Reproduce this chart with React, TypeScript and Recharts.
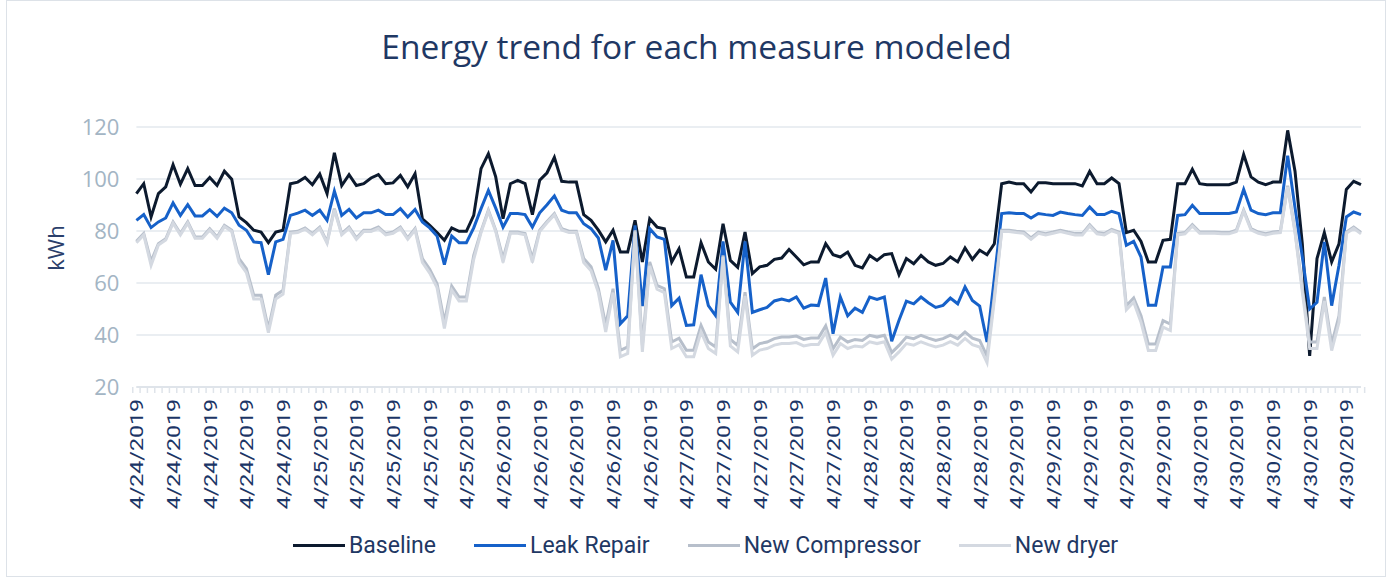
import React from "react";
import { LineChart, Line, XAxis, YAxis, CartesianGrid } from "recharts";

const NAVY = "#1f3864";

// hourly readings, 4/24 00:00 → 4/30 23:00
const days = ["4/24/2019", "4/25/2019", "4/26/2019", "4/27/2019", "4/28/2019", "4/29/2019", "4/30/2019"];
const categories = days.flatMap((d) => Array.from({ length: 24 }, () => d));

const baseline = [
  94.4, 98.2, 85.4, 94.4, 97, 105.5, 98, 104, 97.5, 97.5, 100.6, 97.5, 103, 99.9, 85.4, 83.2, 80.3, 79.6, 75.5, 79.6, 80.3, 98.2, 98.8, 100.6,
  97.8, 101.9, 94.4, 110.1, 97.5, 101.7, 97.5, 98.2, 100.4, 101.7, 98.2, 98.5, 101.4, 97, 102, 84.7, 82.2, 79.4, 76.4, 81.2, 79.9, 79.9, 86, 104,
  109.7, 100.8, 84.7, 98.2, 99.5, 98.2, 86.3, 99.5, 102.4, 108.3, 99.1, 98.8, 98.8, 86.3, 84.1, 80.3, 75.8, 80.3, 71.9, 71.9, 84.1, 68.1, 84.7, 81.5,
  80.9, 68.1, 73.2, 62.3, 62.3, 75.5, 68.1, 65.3, 82.8, 68.7, 66, 79.6, 63.6, 66.2, 66.8, 69.1, 69.6, 72.9, 70, 67, 68.1, 68.1, 75.1, 70.9,
  70, 71.9, 66.8, 65.8, 70.6, 68.7, 70.9, 71.3, 63.2, 69.4, 67.4, 70.6, 68.1, 66.8, 67.5, 70, 68.1, 73.5, 69.1, 72.6, 70.9, 75.1, 98.2, 98.8,
  98.2, 98.2, 95, 98.6, 98.6, 98.2, 98.2, 98.2, 98.2, 97.3, 102.9, 98.2, 98.2, 100.4, 98.2, 79.4, 80.3, 76, 68.1, 68.1, 76.4, 76.8, 98.2, 98.2,
  103.7, 98.2, 97.8, 97.8, 97.8, 97.8, 98.8, 109.4, 100.8, 98.8, 97.8, 98.8, 98.8, 118.7, 103, 75, 32, 69.4, 79.4, 68.1, 75.1, 96, 99.1, 97.8,
];

const leakRepair = [
  84.1, 86.3, 81.3, 83.5, 85, 90.8, 86, 90.1, 85.8, 85.8, 88.2, 85.6, 88.8, 87, 82.2, 80.3, 75.8, 75.5, 63.2, 75.8, 76.8, 86, 86.9, 88,
  86, 88, 84.1, 95.3, 86, 88.3, 85, 87, 87, 88, 86.3, 86.3, 88.6, 85.4, 88.3, 83.5, 81.2, 78.1, 67.1, 78.1, 75.5, 75.5, 81.2, 88.6,
  95.6, 88.8, 81.5, 86.7, 86.7, 86.3, 81.5, 87, 90.1, 93.5, 88, 87, 87, 82.8, 80.9, 77.3, 64.9, 76.4, 44.3, 47.4, 82.2, 51.1, 80.9, 77.7,
  76.8, 51.3, 54.2, 43.7, 43.9, 63.2, 51.3, 47.4, 76, 52.6, 48.7, 76, 48.7, 49.7, 50.6, 53.1, 53.8, 53.1, 54.6, 50.3, 51.5, 51.3, 61.9, 40.5,
  54.6, 47.4, 50.3, 48.7, 54.6, 53.7, 54.6, 37.6, 45.7, 53, 52, 54.6, 52.4, 50.6, 51.4, 54.2, 52, 58.5, 53.3, 51.1, 37.3, 62, 86.7, 87,
  86.7, 86.7, 85, 86.7, 86.3, 86, 87.3, 86.7, 86.3, 86, 89.2, 86.3, 86.3, 87.6, 86.7, 74.5, 76, 70, 51.4, 51.4, 66.2, 66.2, 86, 86.3,
  89.9, 86.7, 86.7, 86.7, 86.7, 86.7, 87.3, 96, 88, 86.7, 86.3, 87, 87, 109, 89, 70, 50, 52.6, 75.8, 51.3, 66.8, 85.4, 87.3, 86.3,
];

const newCompressor = [
  76, 79, 68.3, 75.1, 77, 83.5, 79, 83.5, 77.7, 77.7, 80.9, 77.7, 82.2, 80.3, 69.4, 65.5, 55.3, 55.3, 42.4, 55.3, 57.2, 79.6, 79.9, 81.2,
  79, 81.5, 75.8, 88.6, 79, 81.5, 77.3, 80.3, 80.3, 81.5, 79, 79.6, 81.5, 77.3, 80.9, 69.4, 65.3, 59.7, 45, 58.8, 54.6, 54.6, 70.6, 79.9,
  88, 80.3, 69.4, 79.6, 79.6, 79, 69.4, 80.3, 83.7, 86.7, 80.9, 79.9, 79.9, 69.4, 66.2, 57.8, 43.7, 57.8, 34.1, 35.4, 80.3, 36, 68.1, 59.1,
  57.8, 37.3, 38.8, 34.1, 34.1, 43.7, 37.3, 35.4, 70.6, 38.3, 36, 56.5, 34.7, 36.7, 37.3, 38.6, 39.2, 39.2, 39.6, 38.3, 38.8, 38.8, 43.5, 34.7,
  39.2, 37.3, 38.3, 37.9, 39.9, 39.2, 39.9, 33.2, 36, 39.2, 38.6, 39.9, 38.8, 37.9, 38.6, 39.9, 38.6, 41.2, 38.8, 37.9, 31.9, 55, 80.3, 80.3,
  79.9, 79.6, 77.3, 79.6, 79, 79.6, 80.3, 79.6, 79, 79, 82.4, 79.4, 79, 80.6, 79.6, 51.2, 54.2, 47.4, 36.5, 36.5, 45.5, 44.2, 79, 79.4,
  82.4, 79.6, 79.6, 79.6, 79.4, 79.4, 80.3, 88, 80.9, 79.6, 79, 79.6, 79.9, 97.4, 80, 58, 37.3, 37.3, 54.6, 36.5, 47.4, 79.6, 81.5, 79.4,
];

const newDryer = [
  75.5, 78.5, 66.8, 74.6, 76.5, 83, 78.5, 83, 77.2, 77.2, 80.4, 77.2, 81.7, 79.8, 67.9, 64, 53.8, 53.8, 40.9, 53.8, 55.7, 79.1, 79.4, 80.7,
  78.5, 81, 75.3, 88.1, 78.5, 81, 76.8, 79.8, 79.8, 81, 78.5, 79.1, 81, 76.8, 80.4, 67.9, 63.8, 58.2, 42.5, 57.3, 53.1, 53.1, 69.1, 79.4,
  87.5, 79.8, 67.9, 79.1, 79.1, 78.5, 67.9, 79.8, 83.2, 86.2, 80.4, 79.4, 79.4, 67.9, 64.7, 56.3, 41.2, 56.3, 31.6, 32.9, 79.8, 33.5, 66.6, 57.6,
  56.3, 34.8, 36.3, 31.6, 31.6, 41.2, 34.8, 32.9, 70.1, 35.8, 33.5, 55, 32.2, 34.2, 34.8, 36.1, 36.7, 36.7, 37.1, 35.8, 36.3, 36.3, 41, 32.2,
  36.7, 34.8, 35.8, 35.4, 37.4, 36.7, 37.4, 30.7, 33.5, 36.7, 36.1, 37.4, 36.3, 35.4, 36.1, 37.4, 36.1, 38.7, 36.3, 35.4, 29.4, 53.5, 79.8, 79.8,
  79.4, 79.1, 76.8, 79.1, 78.5, 79.1, 79.8, 79.1, 78.5, 78.5, 81.9, 78.9, 78.5, 80.1, 79.1, 49.7, 52.7, 44.9, 34, 34, 43, 41.7, 78.5, 78.9,
  81.9, 79.1, 79.1, 79.1, 78.9, 78.9, 79.8, 87.5, 80.4, 79.1, 78.5, 79.1, 79.4, 96.9, 79.5, 56.5, 34.8, 34.8, 53.1, 34, 44.9, 79.1, 81, 78.9,
];

const yTicks = [20, 40, 60, 80, 100, 120];

const series = [
  { key: "baseline", name: "Baseline", color: "#0c1a2e" },
  { key: "leakRepair", name: "Leak Repair", color: "#1661c9" },
  { key: "newCompressor", name: "New Compressor", color: "#b7bfcb" },
  { key: "newDryer", name: "New dryer", color: "#d4d9e1" },
];

const data = categories.map((date, i) => ({
  idx: i,
  date,
  baseline: baseline[i],
  leakRepair: leakRepair[i],
  newCompressor: newCompressor[i],
  newDryer: newDryer[i],
}));

const PLOT_LEFT = 136.4;
const PLOT_RIGHT = 1361;
const HALF_BAND = (PLOT_RIGHT - PLOT_LEFT) / categories.length / 2;

function DateTick(props: any) {
  const { x, y, payload, index } = props;
  const i = payload?.value ?? index;
  const last = i === categories.length - 1;
  return (
    <g>
      <line x1={x - HALF_BAND} x2={x - HALF_BAND} y1={y} y2={y + 6} stroke="#dfe4ea" strokeWidth={1.5} />
      {last && <line x1={x + HALF_BAND} x2={x + HALF_BAND} y1={y} y2={y + 6} stroke="#dfe4ea" strokeWidth={1.5} />}
      {i % 5 === 0 && (
        <text
          transform={`translate(${x},${y + 12}) rotate(-90) scale(1.22,1)`}
          textAnchor="end"
          dy="0.36em"
          fill="#1b3566"
          fontSize={19}
          fontFamily="Roboto, sans-serif"
        >
          {categories[i]}
        </text>
      )}
    </g>
  );
}

export default function App() {
  return (
    <div
      style={{
        position: "absolute",
        left: 0,
        top: 0,
        width: 1393,
        height: 579,
        background: "#fff",
        fontFamily: "Roboto, sans-serif",
      }}
    >
      <div
        style={{
          position: "absolute",
          left: 6,
          top: 0,
          width: 1378,
          height: 575,
          border: "1px solid #dde2e8",
        }}
      />
      <div
        style={{
          position: "absolute",
          left: 0,
          top: 23,
          width: 1393,
          textAlign: "center",
          fontFamily: "'Open Sans', sans-serif",
          fontSize: 33.5,
          color: NAVY,
        }}
      >
        Energy trend for each measure modeled
      </div>
      <div
        style={{
          position: "absolute",
          left: 55,
          top: 248,
          transform: "translate(-50%, -50%) rotate(-90deg)",
          fontFamily: "'Open Sans', sans-serif",
          fontSize: 22,
          color: "#2b3f6b",
        }}
      >
        kWh
      </div>
      <div style={{ position: "absolute", left: 0, top: 0 }}>
        <LineChart
          width={1393}
          height={579}
          data={data}
          margin={{ top: 127, right: 1393 - PLOT_RIGHT, left: PLOT_LEFT - 100, bottom: 62 }}
        >
          <CartesianGrid vertical={false} stroke="#e3e8ee" strokeWidth={1.5} />
          <XAxis
            dataKey="idx"
            type="category"
            interval={0}
            height={130}
            tickSize={0}
            tickMargin={0}
            tickLine={false}
            axisLine={{ stroke: "#dfe4ea", strokeWidth: 2 }}
            tick={<DateTick />}
          />
          <YAxis
            domain={[20, 120]}
            ticks={yTicks}
            width={100}
            tickSize={0}
            tickMargin={17}
            axisLine={false}
            tickLine={false}
            tick={{ fill: "#a3b5c4", fontSize: 22, fontFamily: "'Open Sans', sans-serif" }}
          />
          {series.map((s) => (
            <Line
              key={s.key}
              dataKey={s.key}
              name={s.name}
              type="linear"
              stroke={s.color}
              strokeWidth={3}
              dot={false}
              activeDot={false}
              isAnimationActive={false}
            />
          ))}
        </LineChart>
      </div>
      <div
        style={{
          position: "absolute",
          left: 293,
          top: 530,
          display: "flex",
          alignItems: "center",
          height: 30,
        }}
      >
        {series.map((s) => (
          <div key={s.key} style={{ display: "flex", alignItems: "center", marginRight: 38 }}>
            <div style={{ width: 52, height: 3, background: s.color, marginRight: 4 }} />
            <span style={{ fontSize: 23, color: NAVY }}>{s.name}</span>
          </div>
        ))}
      </div>
    </div>
  );
}
